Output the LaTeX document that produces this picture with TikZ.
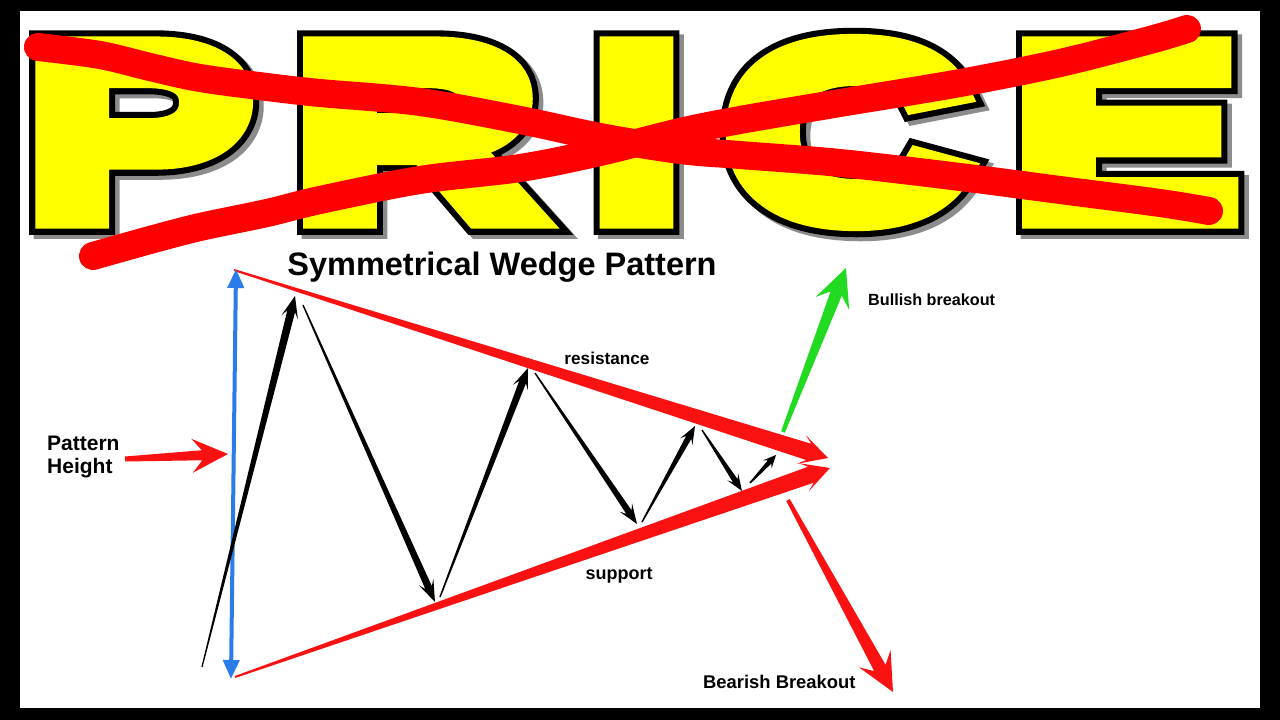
\documentclass[tikz,border=0pt]{standalone}
\usepackage{fontspec}
\usepackage{graphicx}
\setmainfont{Liberation Sans}
\newfontfamily\priceY[FakeBold=10,FakeStretch=1.40]{Liberation Sans Bold}
\newfontfamily\priceK[FakeBold=15,FakeStretch=1.40]{Liberation Sans Bold}
\usetikzlibrary{calc,arrows.meta}
\definecolor{pyellow}{RGB}{255,255,0}
\definecolor{xred}{RGB}{255,0,0}
\definecolor{ared}{RGB}{250,18,18}
\definecolor{hblue}{RGB}{42,124,232}
\definecolor{bgreen}{RGB}{34,218,34}
% tapered arrow: colour, start, tip, half start width, half neck width, half head width, head length
\newcommand\tarrow[7]{%
  \coordinate (tmpN) at ($(#3)!0.72*#7pt!(#2)$);
  \coordinate (tmpH) at ($(#3)!#7pt!(#2)$);
  \fill[#1] ($(#2)!#4pt!90:(#3)$) -- ($(tmpN)!#5pt!90:(#3)$) -- ($(tmpH)!#6pt!90:(#3)$) -- (#3)
    -- ($(tmpH)!#6pt!-90:(#3)$) -- ($(tmpN)!#5pt!-90:(#3)$) -- ($(#2)!#4pt!-90:(#3)$) -- cycle;}
\newcommand\priceword{P\kern40pt R\kern50pt I\kern40pt C\kern41pt E}
\tikzset{
  lbl/.style={inner sep=0pt, font=\bfseries},
  bigword/.style={anchor=base west, inner sep=0pt, text depth=0pt, font=\fontsize{244}{244}\selectfont},
  xstroke/.style={draw=xred, line width=28pt, line cap=round, line join=round},
}
\begin{document}
\begin{tikzpicture}[x=1pt,y=-1pt]
\path[use as bounding box] (0,0) rectangle (1280,720);
\fill[black] (0,0) rectangle (1280,720);
\fill[white] (20,11) rectangle (1260,708);

% big word
\node[bigword, text=black!45] (priceS) at (29,220.5) {\priceK\priceword};
\node[bigword, text=black] (priceK) at (24.5,216.5) {\priceK\priceword};
\node[bigword, text=pyellow] (price) at (24.5,216.5) {\priceY\priceword};

% red cross
\draw[xstroke] plot[smooth, tension=0.55] coordinates {(38,47) (100,55) (150,67) (200,78) (267,87) (320,93) (420,102) (520,120) (600,137) (680,150) (740,155) (840,163) (960,177) (1060,190) (1160,203) (1209,211)};
\draw[xstroke] plot[smooth, tension=0.55] coordinates {(93,256) (150,240) (200,227) (267,213) (320,200) (420,180) (520,168) (600,152) (680,132) (740,120) (840,103) (960,83) (1060,63) (1150,40) (1187,29)};

% title
\node[lbl, anchor=base, font=\bfseries\fontsize{32.5}{39}\selectfont] (title) at (502,275) {Symmetrical Wedge Pattern};

% coordinates
\coordinate (bt) at (236,269);
\coordinate (bb) at (231,679);
\coordinate (rs) at (234,270);
\coordinate (rt) at (828,458);
\coordinate (ss) at (235,677);
\coordinate (st) at (830,468);
\coordinate (a1s) at (202,667); \coordinate (a1t) at (295,296);
\coordinate (a2s) at (303,305); \coordinate (a2t) at (435,602);
\coordinate (a3s) at (440,597); \coordinate (a3t) at (528,368);
\coordinate (a4s) at (535,373); \coordinate (a4t) at (637,524);
\coordinate (a5s) at (642,522); \coordinate (a5t) at (695,426);
\coordinate (a6s) at (702,430); \coordinate (a6t) at (742,491);
\coordinate (a7s) at (750,483); \coordinate (a7t) at (776,455);
\coordinate (gs) at (783,432); \coordinate (gt) at (846,268);
\coordinate (ds) at (788,500); \coordinate (dt) at (893,692);
\coordinate (ps) at (125,459); \coordinate (pt) at (228,454);

% wedge lines
\tarrow{ared}{rs}{rt}{1}{8.5}{15}{28}
\tarrow{ared}{ss}{st}{1}{8.5}{15}{28}

% blue height arrow
\draw[hblue, line width=4pt, {Triangle[length=19pt,width=16pt]}-{Triangle[length=19pt,width=16pt]}] (bt) -- (bb);

% price swings
\tarrow{black}{a1s}{a1t}{0.6}{4}{8.5}{22}
\tarrow{black}{a2s}{a2t}{0.7}{3.6}{8}{22}
\tarrow{black}{a3s}{a3t}{0.7}{3.6}{8}{21}
\tarrow{black}{a4s}{a4t}{0.7}{3.2}{7.5}{20}
\tarrow{black}{a5s}{a5t}{0.7}{3}{7}{18}
\tarrow{black}{a6s}{a6t}{0.7}{2.8}{6.5}{17}
\tarrow{black}{a7s}{a7t}{0.8}{2.4}{6}{13}

% breakouts
\tarrow{bgreen}{gs}{gt}{2}{6}{18}{38}
\tarrow{ared}{ds}{dt}{2}{6.5}{18}{38}
\tarrow{ared}{ps}{pt}{2.5}{5}{17}{36}

% labels
\node[lbl, anchor=north west, align=left, font=\bfseries\fontsize{21}{23}\selectfont] (ph) at (47,436) {Pattern\\Height};
\node[lbl, anchor=base, font=\bfseries\fontsize{17.2}{20}\selectfont] (res) at (607,364) {resistance};
\node[lbl, anchor=base, font=\bfseries\fontsize{18}{21}\selectfont] (sup) at (619,579) {support};
\node[lbl, anchor=base west, font=\bfseries\fontsize{16.2}{19}\selectfont] (bull) at (868,305) {Bullish breakout};
\node[lbl, anchor=base west, font=\bfseries\fontsize{18.4}{21}\selectfont] (bear) at (703,688) {Bearish Breakout};
\end{tikzpicture}
\end{document}
